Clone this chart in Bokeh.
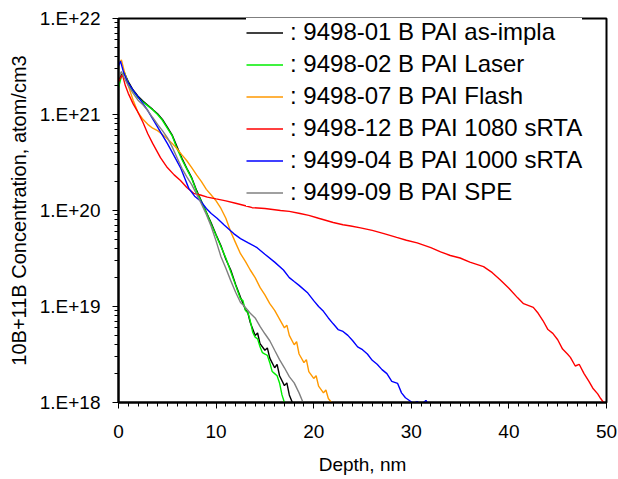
from bokeh.plotting import figure
from bokeh.models import (Range1d, FixedTicker, SingleIntervalTicker,
                          CustomJSTickFormatter, Legend, LegendItem)
from bokeh.embed import file_html
from bokeh.resources import INLINE

# ---------------- data (depth in nm, concentration in atom/cm3) ----------------
black_depth = [0, 0.3, 0.6, 1.0, 1.5, 2.0, 2.5, 3.0, 3.5, 4.0, 4.5, 5.0, 5.5, 6.0, 6.5,
               7.0, 7.5, 8.0, 8.5, 9.0, 9.5, 10.0, 10.5, 11.0, 11.5, 12.0, 12.5, 13.0,
               13.25, 13.5, 14.0, 14.25, 14.5, 15.0, 15.25, 15.5, 16.0, 16.25, 16.5,
               17.0, 17.25, 17.5, 17.9]
black_conc = [2.2e21, 2.6e21, 2.7e21, 2.2e21, 1.8e21, 1.55e21, 1.38e21, 1.25e21, 1.13e21,
              1.02e21, 8.9e20, 7.4e20, 6.1e20, 4.6e20, 3.5e20, 2.75e20, 2.2e20, 1.62e20,
              1.25e20, 9.6e19, 7.4e19, 5.6e19, 4.3e19, 3.1e19, 2.4e19, 1.7e19, 1.25e19,
              9.3e18, 8.6e18, 6.8e18, 5.0e18, 5.3e18, 4.1e18, 3.5e18, 3.7e18, 2.9e18,
              2.3e18, 2.5e18, 1.9e18, 1.5e18, 1.6e18, 1.2e18, 0.95e18]

green_depth = [0, 0.3, 0.6, 1.0, 1.5, 2.0, 2.5, 3.0, 3.5, 4.0, 4.5, 5.0, 5.5, 6.0, 6.5,
               7.0, 7.5, 8.0, 8.5, 9.0, 9.5, 10.0, 10.5, 11.0, 11.5, 12.0, 12.5, 12.75,
               13.0, 13.25, 13.5, 13.75, 14.0, 14.25, 14.5, 14.75, 15.0, 15.25, 15.5,
               15.75, 16.0, 16.25, 16.5, 16.75, 17.0]
green_conc = [1.9e21, 2.5e21, 2.75e21, 2.1e21, 1.75e21, 1.5e21, 1.35e21, 1.23e21, 1.12e21,
              1.0e21, 8.7e20, 7.2e20, 6.0e20, 4.4e20, 3.4e20, 2.7e20, 2.15e20, 1.58e20,
              1.23e20, 9.5e19, 7.2e19, 5.5e19, 4.2e19, 3.2e19, 2.3e19, 1.66e19, 1.2e19,
              1.15e19, 9.1e18, 8.7e18, 7.1e18, 5.4e18, 4.8e18, 4.6e18, 3.8e18, 3.3e18,
              3.2e18, 3.1e18, 2.6e18, 2.1e18, 2.0e18, 1.9e18, 1.6e18, 1.2e18, 1.0e18]

orange_depth = [0, 0.3, 0.6, 1.0, 1.5, 2.0, 2.5, 3.0, 3.5, 4.0, 4.5, 5.0, 5.5, 6.0, 6.5,
                7.0, 7.5, 8.0, 8.5, 9.0, 9.5, 10.0, 10.5, 11.0, 11.5, 12.0, 12.5, 13.0,
                13.5, 14.0, 14.5, 15.0, 15.5, 16.0, 16.5, 17.0, 17.25, 17.5, 18.0, 18.25,
                18.5, 19.0, 19.25, 19.5, 20.0, 20.25, 20.5, 21.0, 21.25, 21.5, 22.0]
orange_conc = [3.3e21, 3.7e21, 2.8e21, 2.0e21, 1.41e21, 1.05e21, 8.9e20, 7.9e20, 7.2e20,
               6.8e20, 6.2e20, 5.6e20, 5.0e20, 4.4e20, 3.8e20, 3.3e20, 2.8e20, 2.35e20,
               2.0e20, 1.66e20, 1.45e20, 1.26e20, 1.05e20, 8.3e19, 6.0e19, 4.6e19, 3.55e19,
               2.95e19, 2.4e19, 2.0e19, 1.58e19, 1.32e19, 1.07e19, 9.1e18, 7.4e18, 6.0e18,
               6.4e18, 5.0e18, 4.0e18, 4.3e18, 3.2e18, 2.6e18, 2.8e18, 2.1e18, 1.78e18,
               1.9e18, 1.48e18, 1.26e18, 1.35e18, 1.1e18, 0.95e18]

red_depth = [0, 0.4, 0.7, 1.0, 1.5, 1.9, 2.5, 3.0, 3.5, 4.3, 5.0, 5.7, 6.35, 7.0, 7.7,
             8.4, 9.1, 10.0, 11.0, 12.0, 13.0, 13.7, 15.0, 16.6, 17.5, 18.6, 19.5, 20.5,
             22.0, 23.0, 23.8, 24.8, 26.0, 27.2, 28.5, 29.5, 30.6, 32.0, 33.0, 34.0,
             35.0, 36.0, 37.4, 38.3, 39.1, 40.0, 40.9, 41.5, 42.5, 43.0, 43.5, 44.0,
             44.5, 45.0, 45.5, 46.0, 46.3, 46.8, 47.2, 47.7, 48.2, 48.6, 49.1, 49.4,
             49.7, 50.0]
red_conc = [2.2e21, 2.6e21, 2.0e21, 1.66e21, 1.29e21, 1.1e21, 8.3e20, 6.3e20, 5.0e20,
            3.55e20, 2.8e20, 2.35e20, 2.05e20, 1.74e20, 1.51e20, 1.45e20, 1.38e20,
            1.32e20, 1.26e20, 1.19e20, 1.12e20, 1.07e20, 1.05e20, 1.0e20, 9.8e19, 9.3e19,
            8.9e19, 8.3e19, 7.5e19, 7.1e19, 6.9e19, 6.6e19, 6.2e19, 5.75e19, 5.25e19,
            4.9e19, 4.6e19, 4.1e19, 3.7e19, 3.4e19, 3.2e19, 2.9e19, 2.6e19, 2.25e19,
            1.9e19, 1.55e19, 1.23e19, 1.07e19, 9.8e18, 8.5e18, 7.1e18, 5.75e18, 5.25e18,
            4.5e18, 3.6e18, 3.2e18, 2.95e18, 2.4e18, 2.5e18, 2.0e18, 1.66e18, 1.41e18,
            1.23e18, 1.1e18, 1.0e18, 0.93e18]

blue_depth = [0, 0.2, 0.5, 0.9, 1.5, 2.25, 3.0, 3.6, 4.3, 5.0, 5.7, 6.35, 6.8, 7.2, 7.8,
              8.4, 9.0, 9.5, 10.1, 10.8, 11.8, 12.5, 13.3, 14.2, 15.0, 16.0, 16.9, 17.5,
              18.0, 18.5, 19.4, 20.0, 20.5, 21.0, 21.5, 22.0, 22.5, 23.0, 23.5, 24.0,
              24.5, 25.0, 25.5, 26.0, 26.5, 27.0, 27.5, 28.0, 28.6, 29.0, 29.4, 29.8,
              30.2, 30.6, 31.0, 31.5, 31.8]
blue_conc = [3.2e21, 3.6e21, 2.8e21, 2.2e21, 1.78e21, 1.41e21, 1.1e21, 8.7e20, 6.6e20,
             5.0e20, 3.7e20, 2.8e20, 2.15e20, 1.7e20, 1.41e20, 1.26e20, 1.05e20, 9.3e19,
             8.3e19, 7.1e19, 5.75e19, 5.1e19, 4.6e19, 4.1e19, 3.5e19, 2.9e19, 2.4e19,
             2.0e19, 1.82e19, 1.66e19, 1.38e19, 1.15e19, 1.0e19, 8.9e18, 7.6e18, 6.6e18,
             5.75e18, 5.5e18, 5.0e18, 4.4e18, 3.8e18, 3.55e18, 3.2e18, 2.75e18, 2.5e18,
             2.2e18, 2.0e18, 1.66e18, 1.58e18, 1.26e18, 1.12e18, 1.05e18, 0.98e18,
             1.02e18, 0.95e18, 1.05e18, 0.93e18]

gray_depth = [0, 0.3, 0.6, 1.0, 1.5, 2.0, 2.5, 3.0, 3.5, 4.0, 4.5, 5.0, 5.5, 6.0, 6.5,
              7.0, 7.5, 8.0, 8.5, 9.0, 9.5, 10.0, 10.5, 11.0, 11.5, 12.0, 12.5, 13.0,
              13.5, 14.0, 14.5, 15.0, 15.5, 16.0, 16.5, 17.0, 17.5, 18.0, 18.5, 19.0]
gray_conc = [2.45e21, 2.8e21, 2.4e21, 2.0e21, 1.66e21, 1.41e21, 1.26e21, 1.1e21, 9.3e20,
             7.9e20, 6.8e20, 5.75e20, 4.6e20, 3.55e20, 2.75e20, 2.24e20, 1.86e20, 1.48e20,
             1.17e20, 9.1e19, 6.8e19, 4.8e19, 3.3e19, 2.5e19, 1.86e19, 1.41e19, 1.1e19,
             9.8e18, 8.5e18, 7.6e18, 6.2e18, 5.2e18, 4.4e18, 3.5e18, 2.8e18, 2.3e18,
             1.86e18, 1.6e18, 1.26e18, 0.95e18]

series_labels = [": 9498-01 B PAI as-impla", ": 9498-02 B PAI Laser",
                 ": 9498-07 B PAI Flash", ": 9498-12 B PAI 1080 sRTA",
                 ": 9499-04 B PAI 1000 sRTA", ": 9499-09 B PAI SPE"]
series_colors = ["#000000", "#00ee00", "#ff9900", "#ff0000", "#0000ff", "#808080"]

y_major = [1e18, 1e19, 1e20, 1e21, 1e22]
y_labels = ["1.E+18", "1.E+19", "1.E+20", "1.E+21", "1.E+22"]
y_minor = [m * 10.0 ** e for e in range(18, 22) for m in range(2, 10)]

# ---------------- figure ----------------
FONT = "Liberation Sans"
p = figure(width=618, height=479, y_axis_type="log",
           x_range=Range1d(0, 50), y_range=Range1d(1e18, 1e22),
           output_backend="svg", toolbar_location=None,
           min_border_left=118, min_border_right=12,
           min_border_top=18, min_border_bottom=77)
p.background_fill_color = "white"
p.border_fill_color = "white"
p.outline_line_color = "black"
p.outline_line_width = 2
p.xgrid.visible = False
p.ygrid.visible = False

series = [(black_depth, black_conc), (green_depth, green_conc), (orange_depth, orange_conc),
          (red_depth, red_conc), (blue_depth, blue_conc), (gray_depth, gray_conc)]
items = []
for (d, c), lab, col in zip(series, series_labels, series_colors):
    r = p.line(d, c, line_color=col, line_width=1.4)
    items.append(LegendItem(label=lab, renderers=[r]))

p.xaxis.ticker = SingleIntervalTicker(interval=10, num_minor_ticks=10)
p.yaxis.ticker = FixedTicker(ticks=y_major, minor_ticks=y_minor)
p.yaxis.formatter = CustomJSTickFormatter(
    args=dict(tvals=y_major, tlabs=y_labels),
    code="""
      for (let i = 0; i < tvals.length; i++) {
        if (Math.abs(Math.log10(tvals[i]) - Math.log10(tick)) < 1e-6) return tlabs[i];
      }
      return "";
    """)

for ax in (p.xaxis[0], p.yaxis[0]):
    ax.axis_line_width = 2
    ax.axis_line_color = "black"
    ax.major_tick_line_color = "black"
    ax.minor_tick_line_color = "black"
    ax.major_tick_line_width = 1
    ax.minor_tick_line_width = 1
    ax.major_tick_in = 0
    ax.major_tick_out = 6
    ax.minor_tick_in = 0
    ax.minor_tick_out = 4
    ax.major_label_text_font = FONT
    ax.major_label_text_font_size = "19px"
    ax.major_label_text_color = "black"
    ax.axis_label_text_font = FONT
    ax.axis_label_text_font_size = "19px"
    ax.axis_label_text_font_style = "normal"
    ax.axis_label_text_color = "black"

p.xaxis.axis_label = "Depth, nm"
p.yaxis.axis_label = "10B+11B Concentration, atom/cm3"
p.yaxis.axis_label_text_font_size = "20px"
p.xaxis.major_label_standoff = 16
p.xaxis.axis_label_standoff = 13
p.yaxis.major_label_standoff = 12
p.yaxis.axis_label_standoff = 7

legend = Legend(items=items, location=(128, 196))
legend.background_fill_color = "white"
legend.background_fill_alpha = 1.0
legend.border_line_color = None
legend.padding = 4
legend.margin = 0
legend.spacing = 4
legend.glyph_width = 37
legend.glyph_height = 25
legend.label_height = 25
legend.label_standoff = 7
legend.label_text_font = FONT
legend.label_text_font_size = "24px"
legend.label_text_color = "black"
p.add_layout(legend)

open("out.html", "w").write(file_html(p, INLINE))
